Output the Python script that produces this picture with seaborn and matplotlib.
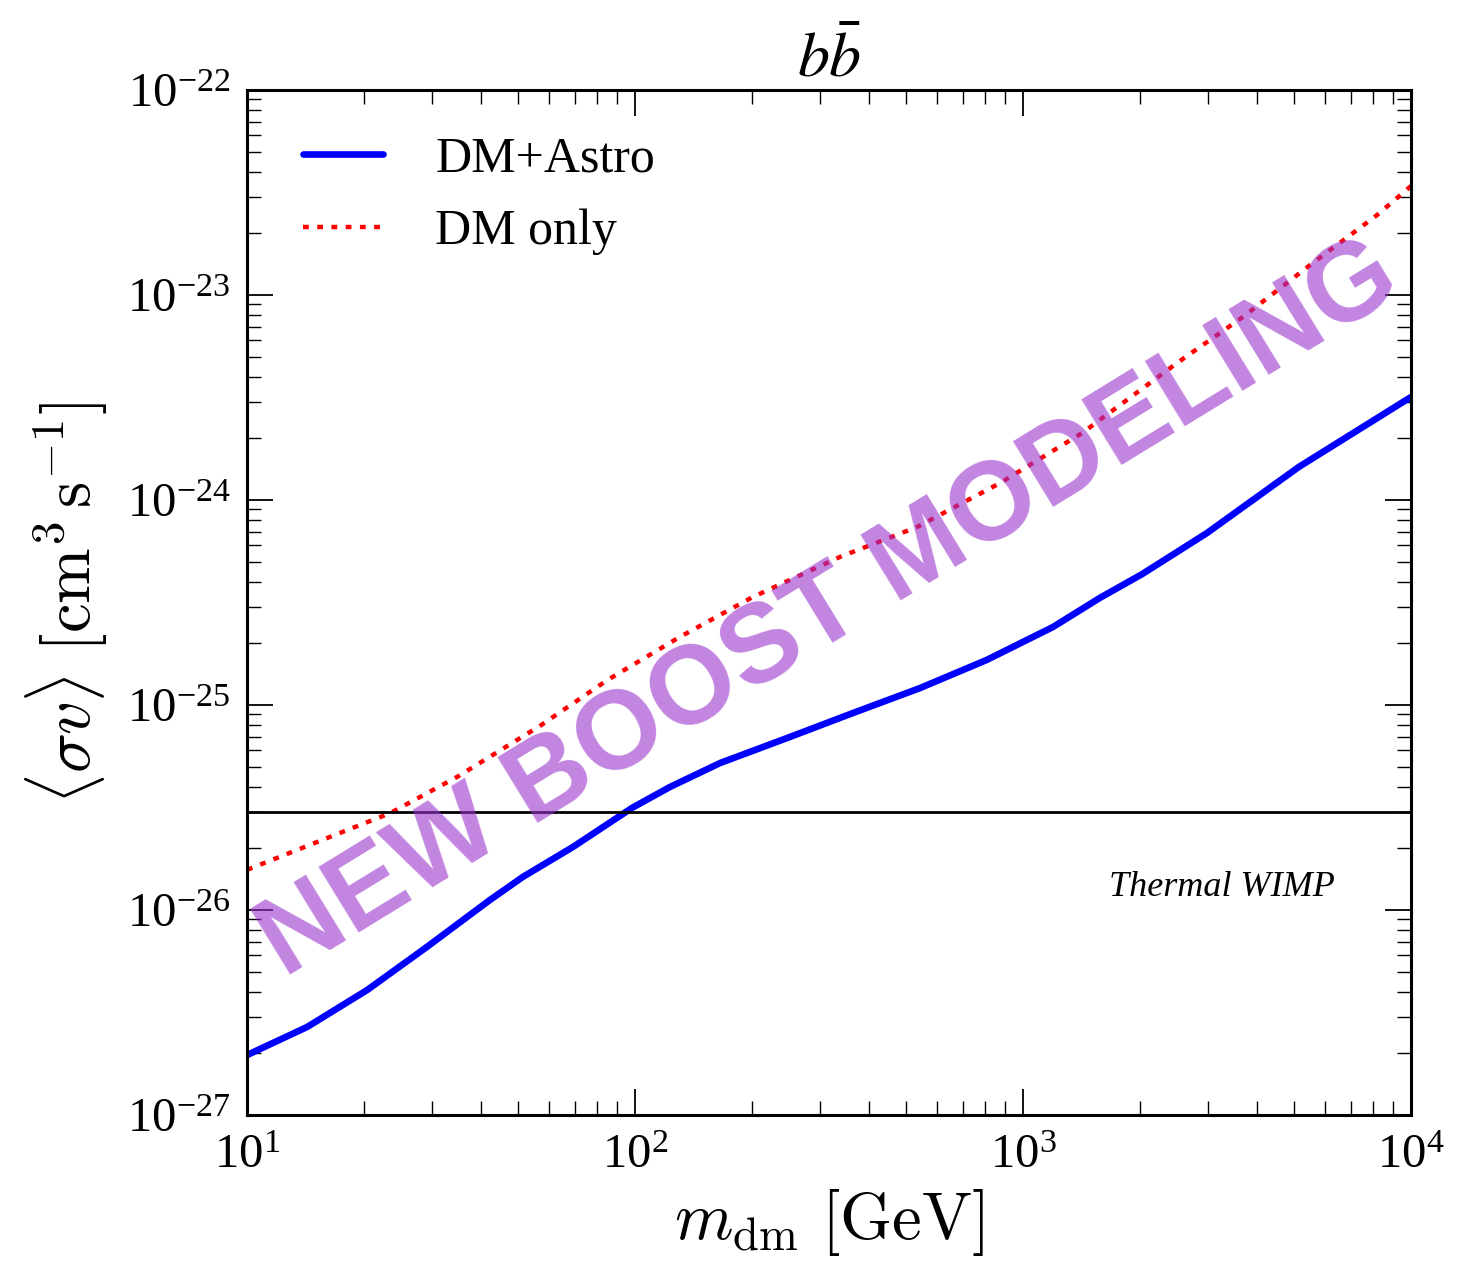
import numpy as np
import pandas as pd
import matplotlib
matplotlib.use("Agg")
import matplotlib.pyplot as plt
import matplotlib.ticker as mticker
import seaborn as sns

# values
mass_astro = [10, 14.3, 20.4, 29.1, 42.3, 51.4, 69.2, 98.3, 123, 165.6, 246.6, 364.6, 543, 807,
              1194, 1578, 2028, 2979, 5140, 10000]
sv_astro = [1.96e-27, 2.69e-27, 4.07e-27, 6.61e-27, 1.12e-26, 1.45e-26, 2.03e-26, 3.15e-26,
            3.98e-26, 5.21e-26, 6.90e-26, 9.14e-26, 1.21e-25, 1.66e-25,
            2.40e-25, 3.33e-25, 4.35e-25, 6.90e-25, 1.45e-24, 3.18e-24]

mass_dm = [10, 17.4, 23.4, 34.8, 56.9, 84.7, 130.6, 201, 337, 533, 873, 1419, 2495, 3690, 5495, 8166, 10000]
sv_dm = [1.57e-26, 2.38e-26, 2.97e-26, 4.46e-26, 7.91e-26, 1.32e-25, 2.15e-25, 3.36e-25, 5.27e-25,
         7.38e-25, 1.21e-24, 2.12e-24, 4.66e-24, 7.82e-24, 1.40e-23, 2.45e-23, 3.40e-23]

thermal_sv = 3e-26
xlim = (10, 1e4)
ylim = (1e-27, 1e-22)
xticks = [1e1, 1e2, 1e3, 1e4]
yticks = [1e-27, 1e-26, 1e-25, 1e-24, 1e-23, 1e-22]

sns.set_style("ticks")
plt.rcParams['font.family'] = ['Liberation Serif', 'DejaVu Serif']
plt.rcParams['mathtext.fontset'] = 'stix'
plt.rcParams['axes.unicode_minus'] = False
for k in ['text.color', 'axes.labelcolor', 'xtick.color', 'ytick.color', 'axes.edgecolor']:
    plt.rcParams[k] = 'black'

df = pd.concat([
    pd.DataFrame({'m': mass_astro, 'sv': sv_astro, 'case': 'DM+Astro'}),
    pd.DataFrame({'m': mass_dm, 'sv': sv_dm, 'case': 'DM only'}),
])

fig = plt.figure(figsize=(14.68, 12.69), dpi=100)
ax = fig.add_axes([247/1468, 1 - 1115/1269, (1411-247)/1468, (1115-90)/1269])

sns.lineplot(data=df[df.case == 'DM+Astro'], x='m', y='sv', color='#0000ff', lw=4.8,
             label='DM+Astro', ax=ax, sort=False)
sns.lineplot(data=df[df.case == 'DM only'], x='m', y='sv', color='#ff0000', lw=3.2,
             linestyle=(0, (1.3, 1.9)), label='DM only', ax=ax, sort=False)
ax.axhline(thermal_sv, color='black', lw=2.0)

ax.set_xscale('log')
ax.set_yscale('log')
ax.set_xlim(*xlim)
ax.set_ylim(*ylim)

ax.yaxis.set_major_locator(mticker.FixedLocator(yticks))
ax.xaxis.set_major_locator(mticker.FixedLocator(xticks))
ax.yaxis.set_major_formatter(mticker.LogFormatterSciNotation())
ax.xaxis.set_major_formatter(mticker.LogFormatterSciNotation())
ax.yaxis.set_minor_locator(mticker.LogLocator(base=10, subs=np.arange(2, 10), numticks=20))
ax.xaxis.set_minor_locator(mticker.LogLocator(base=10, subs=np.arange(2, 10), numticks=20))
ax.yaxis.set_minor_formatter(mticker.NullFormatter())
ax.xaxis.set_minor_formatter(mticker.NullFormatter())

ax.tick_params(which='both', direction='in', top=True, right=True, labelsize=35)
ax.tick_params(which='major', length=19, width=1.3)
ax.tick_params(which='minor', length=10, width=1.0)
ax.tick_params(axis='y', which='major', pad=12)
ax.tick_params(axis='x', which='major', pad=14)
for sp in ax.spines.values():
    sp.set_linewidth(2.2)
    sp.set_color('black')

ax.set_xlabel(r'$m_{\rm dm}\ [\mathrm{GeV}]$', fontsize=48, math_fontfamily='cm', labelpad=6)
ax.set_ylabel(r'$\langle \sigma v \rangle\ [\mathrm{cm}^3\,\mathrm{s}^{-1}]$', fontsize=48,
              math_fontfamily='cm', labelpad=12)
ax.set_title(r'$b\bar{b}$', fontsize=46, pad=8)

ax.legend(loc='upper left', bbox_to_anchor=(0.048, 0.955), borderaxespad=0, frameon=False,
          fontsize=36, handlelength=1.6, handletextpad=1.05, labelspacing=0.52, borderpad=0)

ax.text(0.8376, 0.2215, 'Thermal WIMP', transform=ax.transAxes, ha='center', va='center',
        fontsize=26, style='italic')

fig.text(830/1468, 1 - 610/1269, 'NEW BOOST MODELING', fontsize=80, fontweight='bold',
         family='Liberation Sans', color='darkorchid', alpha=0.6, rotation=31.5,
         ha='center', va='center', rotation_mode='anchor')

fig.savefig('out.png', dpi=100)
